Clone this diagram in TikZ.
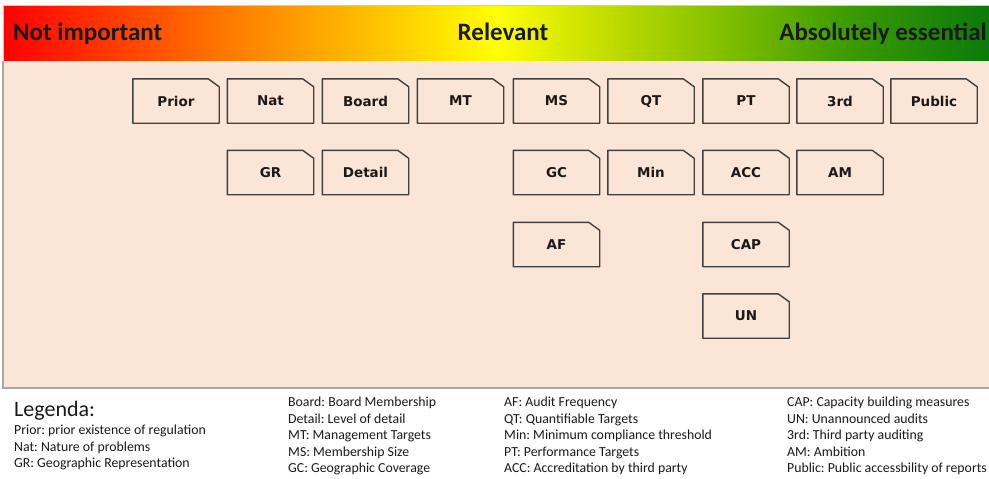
\documentclass[tikz,border=0pt]{standalone}
\usepackage{fontspec}
\setmainfont{Carlito}
\newfontfamily\cardfont{DejaVu Sans}
\usetikzlibrary{calc}
\frenchspacing

\definecolor{panelpeach}{HTML}{FBE5D6}
\definecolor{cardgrey}{HTML}{404040}
\definecolor{framegrey}{HTML}{A6A6A6}
\definecolor{inkblack}{HTML}{1A1A1A}
\definecolor{imporange}{HTML}{FF8000}
\definecolor{impamber}{HTML}{FFC400}
\definecolor{implime}{HTML}{C8E000}
\definecolor{impgreen}{HTML}{7CBC00}
\definecolor{impforest}{HTML}{3A9A00}
\definecolor{impdark}{HTML}{0A7A0A}

\pgfdeclarehorizontalshading{importance}{100bp}{color(0bp)=(red); color(25bp)=(red); color(37bp)=(imporange); color(44bp)=(impamber); color(50bp)=(yellow); color(55bp)=(implime); color(62bp)=(impgreen); color(68bp)=(impforest); color(75bp)=(impdark); color(100bp)=(impdark)}

\tikzset{
	headtext/.style={font=\fontsize{25}{30}\selectfont\bfseries, text=inkblack, inner sep=0},
	cardtext/.style={font=\cardfont\fontsize{13.5}{16}\selectfont\bfseries, text=inkblack, minimum width=86, minimum height=44, inner sep=0},
	cardline/.style={line width=1.4, color=cardgrey, line join=round},
	legendhead/.style={font=\fontsize{22}{26}\selectfont, text=inkblack, anchor=base west, inner sep=0},
	legendtext/.style={font=\fontsize{13.8}{16}\selectfont, text=inkblack, anchor=base west, inner sep=0}
}

% card with the top right corner cut off
\def\card(#1,#2)[#3]#4{\node[cardtext] (#3) at (#1,#2) {#4};
	\draw[cardline] (#3.north west) -- ($(#3.north east)+(-11,0)$) -- ($(#3.north east)+(0,8)$) -- (#3.south east) -- (#3.south west) -- cycle;}

\begin{document}
\begin{tikzpicture}[x=1pt, y=-1pt]
		%%%%% START %%%%%
		\useasboundingbox (0,0) rectangle (989,479);
		\fill[white] (0,0) rectangle (989,479);
		
		% importance scale
		\shade[shading=importance] (3,5) rectangle (989,61);
		\draw[framegrey!60, line width=0.8] (3,5) rectangle (989,61);
		\node[headtext, anchor=base west] (notimp) at (13,40) {Not important};
		\node[headtext, anchor=base] (relevant) at (503,40) {Relevant};
		\node[headtext, anchor=base east] (essential) at (987,40) {Absolutely essential};
		
		% panel
		\fill[panelpeach] (3,61) rectangle (989,388);
		\draw[framegrey, line width=1.5] (3,61) -- (3,388) -- (989,388);
		
		% first row
		\card(176,101)[prior]{Prior}
		\card(270.5,101)[nat]{Nat}
		\card(365.5,101)[board]{Board}
		\card(460.5,101)[mt]{MT}
		\card(556.5,101)[ms]{MS}
		\card(651,101)[qt]{QT}
		\card(746,101)[pt]{PT}
		\card(840,101)[third]{3rd}
		\card(934,101)[public]{Public}
		
		% second row
		\card(270.5,172.5)[gr]{GR}
		\card(365.5,172.5)[detail]{Detail}
		\card(556.5,172.5)[gc]{GC}
		\card(651,172.5)[min]{Min}
		\card(746,172.5)[acc]{ACC}
		\card(840,172.5)[am]{AM}
		
		% lower rows
		\card(556.5,244.5)[af]{AF}
		\card(746,244.5)[cap]{CAP}
		\card(746,316)[un]{UN}
		
		% legend
		\node[legendhead] (legenda) at (14,416) {Legenda:};
		\node[legendtext] (leg-prior) at (14,434.5) {Prior: prior existence of regulation};
		\node[legendtext] (leg-nat) at (14,451) {Nat: Nature of problems};
		\node[legendtext] (leg-gr) at (14,467.5) {GR: Geographic Representation};
		
		\node[legendtext] (leg-board) at (288,406.5) {Board: Board Membership};
		\node[legendtext] (leg-detail) at (288,423) {Detail: Level of detail};
		\node[legendtext] (leg-mt) at (288,439.5) {MT: Management Targets};
		\node[legendtext] (leg-ms) at (288,456) {MS: Membership Size};
		\node[legendtext] (leg-gc) at (288,472.5) {GC: Geographic Coverage};
		
		\node[legendtext] (leg-af) at (504,406.5) {AF: Audit Frequency};
		\node[legendtext] (leg-qt) at (504,423) {QT: Quantifiable Targets};
		\node[legendtext] (leg-min) at (504,439.5) {Min: Minimum compliance threshold};
		\node[legendtext] (leg-pt) at (504,456) {PT: Performance Targets};
		\node[legendtext] (leg-acc) at (504,472.5) {ACC: Accreditation by third party};
		
		\node[legendtext] (leg-cap) at (787,406.5) {CAP: Capacity building measures};
		\node[legendtext] (leg-un) at (787,423) {UN: Unannounced audits};
		\node[legendtext] (leg-third) at (787,439.5) {3rd: Third party auditing};
		\node[legendtext] (leg-am) at (787,456) {AM: Ambition};
		\node[legendtext] (leg-public) at (787,472.5) {Public: Public accessbility of reports};
		
		%%%%% END %%%%%
	\end{tikzpicture}
\end{document}
